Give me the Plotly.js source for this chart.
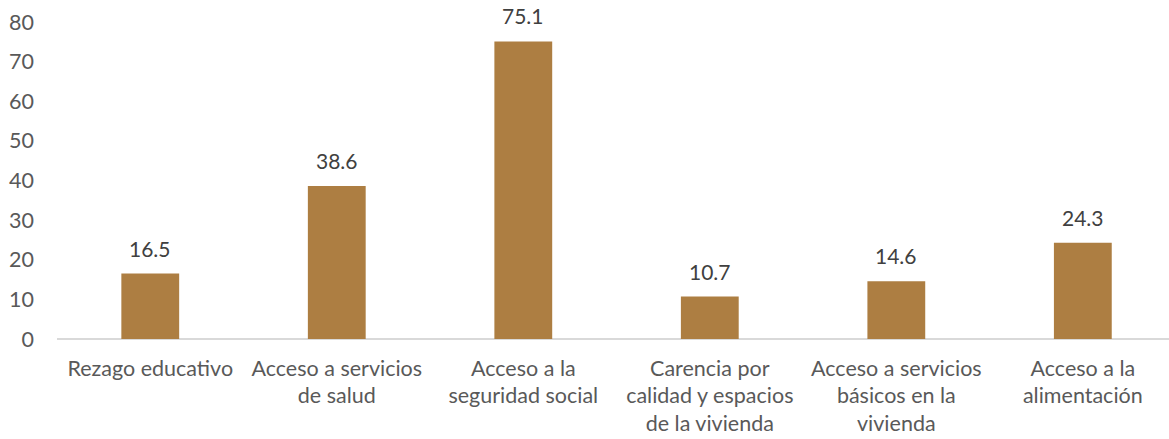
<!DOCTYPE html>
<html>
<head>
<meta charset="utf-8">
<script src="https://cdn.plot.ly/plotly-3.0.1.min.js"></script>
<style>
html,body{margin:0;padding:0;background:#fff;}
#chart{width:1169px;height:439px;}
</style>
</head>
<body>
<div id="chart"></div>
<script>
const categories = [
  "Rezago educativo",
  "Acceso a servicios<br>de salud",
  "Acceso a la<br>seguridad social",
  "Carencia por<br>calidad y espacios<br>de la vivienda",
  "Acceso a servicios<br>básicos en la<br>vivienda",
  "Acceso a la<br>alimentación"
];
const values = [16.5, 38.6, 75.1, 10.7, 14.6, 24.3];
const yTicks = [0, 10, 20, 30, 40, 50, 60, 70, 80];

const FONT = "Lato, 'Open Sans', sans-serif";
const idx = categories.map((c, i) => i);

const trace = {
  type: "bar",
  x: idx,
  y: values,
  marker: { color: "#AD7E42", line: { width: 0 } },
  width: 0.31,
  hoverinfo: "skip"
};

const annotations = values.map((v, i) => ({
  x: i, y: v, xref: "x", yref: "y",
  text: v.toFixed(1),
  showarrow: false,
  yanchor: "bottom",
  yshift: 11,
  font: { family: FONT, size: 21, color: "#404040" }
}));

const layout = {
  width: 1169, height: 439,
  margin: { l: 57, r: 0, t: 22, b: 100 },
  paper_bgcolor: "#ffffff",
  plot_bgcolor: "#ffffff",
  showlegend: false,
  xaxis: {
    range: [-0.5, 5.462],
    tickmode: "array",
    tickvals: idx,
    ticktext: categories,
    showgrid: false,
    zeroline: false,
    showline: false,
    ticks: "",
    ticklabelstandoff: 14,
    tickfont: { family: FONT, size: 21.5, color: "#595959" },
    fixedrange: true
  },
  yaxis: {
    range: [0, 80],
    tickmode: "array",
    tickvals: yTicks,
    ticktext: yTicks.map(String),
    showgrid: false,
    zeroline: true,
    zerolinecolor: "#D9D9D9",
    zerolinewidth: 2,
    showline: false,
    ticks: "",
    ticklabelstandoff: 22,
    tickfont: { family: FONT, size: 21.5, color: "#595959" },
    fixedrange: true
  },
  annotations: annotations
};

Plotly.newPlot("chart", [trace], layout, { displayModeBar: false, staticPlot: true });
</script>
</body>
</html>
